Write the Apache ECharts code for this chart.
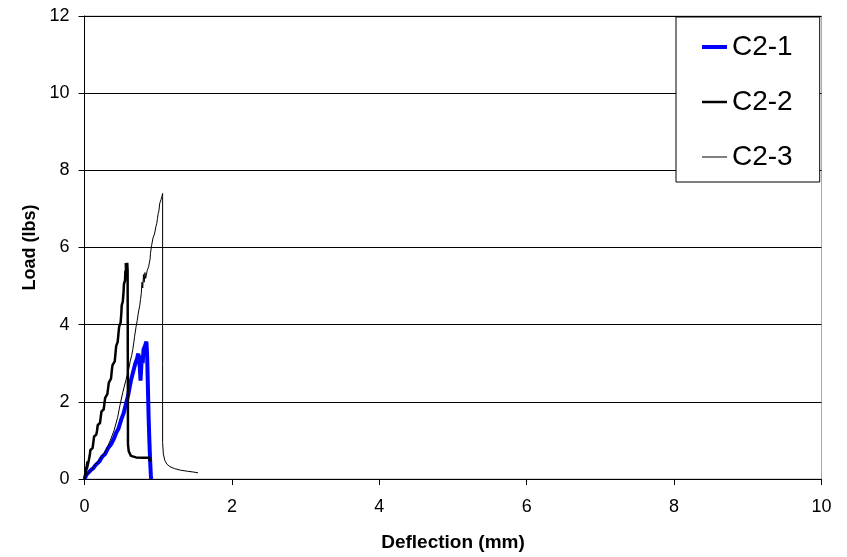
<!DOCTYPE html>
<html>
<head>
<meta charset="utf-8">
<script src="https://cdn.jsdelivr.net/npm/echarts@6/dist/echarts.min.js"></script>
<style>
html,body{margin:0;padding:0;background:#fff;}
#chart{width:847px;height:557px;}
</style>
</head>
<body>
<div id="chart"></div>
<script>
const xTicks = [0, 2, 4, 6, 8, 10];
const yTicks = [0, 2, 4, 6, 8, 10, 12];
const seriesNames = ['C2-1', 'C2-2', 'C2-3'];

const c21X = [0,0.03,0.05,0.08,0.12,0.15,0.2,0.24,0.28,0.32,0.36,0.4,0.43,0.46,0.5,0.53,0.55,0.57,0.59,0.61,0.63,0.65,0.67,0.69,0.71,0.73,0.74,0.75,0.76,0.77,0.78,0.79,0.80,0.81,0.82,0.83,0.84,0.845,0.85,0.86,0.87,0.88,0.89,0.90,0.905];
const c21Y = [0,0.12,0.08,0.22,0.28,0.36,0.45,0.58,0.65,0.8,0.9,1.05,1.2,1.3,1.55,1.7,1.85,2.0,2.15,2.35,2.55,2.7,2.85,3.0,3.1,3.25,3.3,2.9,2.55,2.9,3.2,3.0,3.35,3.4,3.45,3.5,3.56,3.58,3.2,2.4,1.6,1.0,0.5,0.1,0];

const c22X = [0,0.02,0.01,0.04,0.03,0.06,0.07,0.09,0.08,0.11,0.12,0.14,0.13,0.16,0.17,0.19,0.18,0.21,0.22,0.24,0.23,0.26,0.27,0.29,0.28,0.31,0.32,0.34,0.33,0.36,0.37,0.39,0.38,0.41,0.42,0.44,0.43,0.45,0.46,0.48,0.47,0.49,0.50,0.515,0.505,0.52,0.53,0.545,0.535,0.55,0.555,0.565,0.56,0.57,0.575,0.58,0.585,0.59,0.59,0.60,0.63,0.70,0.80,0.88,0.89];
const c22Y = [0,0.3,0.1,0.45,0.25,0.5,0.6,0.55,0.75,0.8,0.95,0.9,1.1,1.15,1.25,1.2,1.4,1.45,1.6,1.55,1.75,1.8,1.95,1.9,2.1,2.2,2.35,2.3,2.5,2.6,2.8,2.75,2.95,3.05,3.25,3.2,3.45,3.55,3.75,3.7,3.95,4.05,4.3,4.25,4.5,4.6,4.85,4.8,5.05,5.15,5.4,5.3,5.6,5.65,5.45,5.6,5.4,5.35,0.9,0.72,0.6,0.56,0.55,0.55,0.45];

const c23X = [0,0.02,0.05,0.1,0.15,0.2,0.25,0.3,0.35,0.4,0.45,0.48,0.52,0.56,0.6,0.62,0.64,0.655,0.67,0.68,0.70,0.715,0.73,0.74,0.75,0.76,0.77,0.78,0.79,0.80,0.81,0.82,0.83,0.85,0.87,0.88,0.89,0.895,0.90,0.91,0.92,0.93,0.945,0.95,0.965,0.97,0.98,0.99,1.00,1.01,1.02,1.03,1.04,1.05,1.06,1.07,1.06,1.06,1.06,1.07,1.09,1.12,1.16,1.22,1.3,1.4,1.48,1.54];
const c23Y = [0,0.1,0.15,0.25,0.38,0.5,0.62,0.78,1.0,1.25,1.6,1.9,2.25,2.55,2.85,3.05,3.2,3.35,3.55,3.7,3.95,4.1,4.3,4.4,4.5,4.65,4.8,5.1,4.95,5.3,5.1,5.35,5.2,5.4,5.5,5.6,5.7,5.85,5.9,6.05,6.1,6.25,6.2,6.35,6.4,6.55,6.62,6.75,6.88,6.95,7.14,7.1,7.25,7.32,7.4,7.45,7.3,3.0,0.95,0.65,0.48,0.38,0.32,0.27,0.23,0.2,0.18,0.16];

function pairs(xs, ys) { return xs.map((x, i) => [x, ys[i]]); }

const chart = echarts.init(document.getElementById('chart'), null, {renderer: 'canvas'});
const FONT = '"Liberation Sans", Arial, sans-serif';
chart.setOption({
  animation: false,
  backgroundColor: '#fff',
  grid: {left: 84.5, right: 25.5, top: 16, bottom: 78, show: true, borderColor: '#aaa', borderWidth: 1, backgroundColor: 'transparent'},
  legend: {
    orient: 'vertical',
    left: 676, top: 17,
    padding: [15, 27, 10, 26],
    itemGap: 25,
    itemWidth: 25, itemHeight: 14,
    backgroundColor: '#fff',
    borderColor: '#000', borderWidth: 1,
    textStyle: {fontFamily: FONT, fontSize: 28, color: '#000', lineHeight: 30},
    itemStyle: {borderWidth: 0},
    data: [
      {name: seriesNames[0], icon: 'path://M0 0H25V4H0Z'},
      {name: seriesNames[1], icon: 'path://M0 0H25V2.5H0Z'},
      {name: seriesNames[2], icon: 'path://M0 0H25V1H0Z'}
    ]
  },
  xAxis: {
    type: 'value', min: xTicks[0], max: xTicks[xTicks.length - 1], interval: 2,
    name: 'Deflection (mm)', nameLocation: 'middle', nameGap: 54,
    nameTextStyle: {fontFamily: FONT, fontSize: 19, fontWeight: 'bold', color: '#000'},
    axisLine: {lineStyle: {color: '#000', width: 1}},
    axisTick: {show: true, length: 6, inside: false, lineStyle: {color: '#000'}},
    axisLabel: {fontFamily: FONT, fontSize: 18, color: '#000', margin: 19},
    splitLine: {show: false}
  },
  yAxis: {
    type: 'value', min: yTicks[0], max: yTicks[yTicks.length - 1], interval: 2,
    name: 'Load (lbs)', nameLocation: 'middle', nameGap: 45, nameRotate: 90,
    nameTextStyle: {fontFamily: FONT, fontSize: 18, fontWeight: 'bold', color: '#000'},
    axisLine: {show: true, lineStyle: {color: '#000', width: 1}},
    axisTick: {show: true, length: 6, inside: false, lineStyle: {color: '#000'}},
    axisLabel: {fontFamily: FONT, fontSize: 18, color: '#000', margin: 15},
    splitLine: {show: true, lineStyle: {color: '#000', width: 1}}
  },
  series: [
    {name: seriesNames[0], type: 'line', data: pairs(c21X, c21Y), showSymbol: false, symbol: 'none', color: '#0000ff', lineStyle: {color: '#0000ff', width: 4}},
    {name: seriesNames[1], type: 'line', data: pairs(c22X, c22Y), showSymbol: false, symbol: 'none', color: '#000', lineStyle: {color: '#000', width: 2.5}},
    {name: seriesNames[2], type: 'line', data: pairs(c23X, c23Y), showSymbol: false, symbol: 'none', color: '#000', lineStyle: {color: '#000', width: 1}}
  ]
});
</script>
</body>
</html>
